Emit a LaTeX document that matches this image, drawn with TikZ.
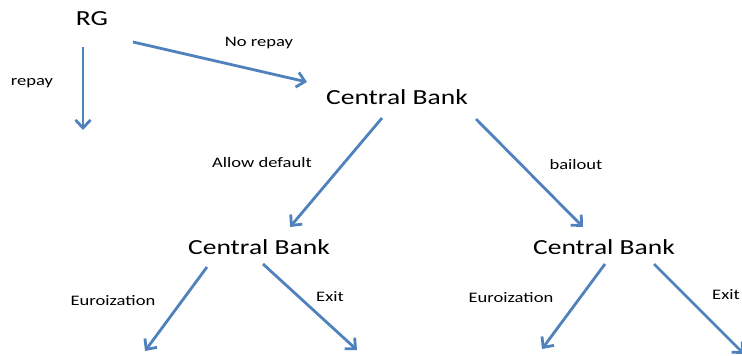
\documentclass[tikz,border=0pt]{standalone}
\usepackage{fontspec}
\setmainfont[FakeStretch=1.28]{Carlito}
\usetikzlibrary{arrows.meta}
\definecolor{arrblue}{HTML}{4F81BD}
\begin{document}
\begin{tikzpicture}[x=1pt,y=-1pt,
  big/.style={font=\fontsize{21.5}{24}\selectfont, inner sep=0pt},
  lbl/.style={font=\fontsize{14.5}{16}\selectfont, inner sep=0pt},
  arr/.style={draw=arrblue, line width=2.8pt, -{Straight Barb[length=8pt,width=15pt,line width=2.8pt]}}
]
\useasboundingbox (0,0) rectangle (742,356);
% text nodes
\node[big] (rg) at (92,19) {RG};
\node[big] (cb) at (397,97) {Central Bank};
\node[big] (cbl) at (259,247) {Central Bank};
\node[big] (cbr) at (604,247) {Central Bank};
\node[lbl] (lrepay) at (32,83) {repay};
\node[lbl] (lnorepay) at (259,43) {No repay};
\node[lbl] (lallow) at (262,163) {Allow default};
\node[lbl] (lbail) at (576,165) {bailout};
\node[lbl] (leurol) at (113,301) {Euroization};
\node[lbl] (lexitl) at (330,297) {Exit};
\node[lbl] (leuror) at (511,298) {Euroization};
\node[lbl] (lexitr) at (726,295) {Exit};
% arrow endpoints
\coordinate (rgA) at (83,47);
\coordinate (repayEnd) at (83,130);
\coordinate (rgB) at (133,42);
\coordinate (cbIn) at (307,82);
\coordinate (cbA) at (382,118);
\coordinate (cblIn) at (290,227);
\coordinate (cbB) at (476,119);
\coordinate (cbrIn) at (583,227);
\coordinate (cblA) at (207,267);
\coordinate (leafA) at (145,351);
\coordinate (cblB) at (263,264);
\coordinate (leafB) at (357,350);
\coordinate (cbrA) at (605,264);
\coordinate (leafC) at (542,349);
\coordinate (cbrB) at (654,264);
\coordinate (leafD) at (744,354);
% arrows
\draw[arr] (rgA) -- (repayEnd);
\draw[arr] (rgB) -- (cbIn);
\draw[arr] (cbA) -- (cblIn);
\draw[arr] (cbB) -- (cbrIn);
\draw[arr] (cblA) -- (leafA);
\draw[arr] (cblB) -- (leafB);
\draw[arr] (cbrA) -- (leafC);
\draw[arr] (cbrB) -- (leafD);
\end{tikzpicture}
\end{document}
